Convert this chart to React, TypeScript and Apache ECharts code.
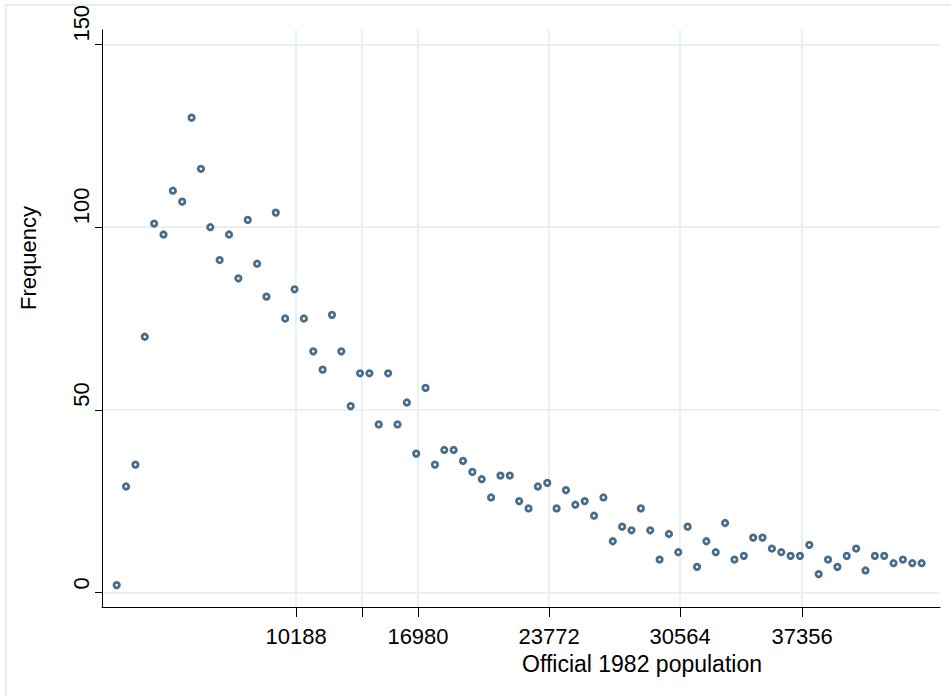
import React, { useEffect, useRef } from "react";
import * as echarts from "echarts";

// Histogram bins (bin number along the axis) and their frequencies
const frequencies: number[] = [
  2, 29, 35, 70, 101, 98, 110, 107, 130, 116, 100, 91, 98, 86, 102, 90, 81, 104, 75, 83,
  75, 66, 61, 76, 66, 51, 60, 60, 46, 60, 46, 52, 38, 56, 35, 39, 39, 36, 33, 31,
  26, 32, 32, 25, 23, 29, 30, 23, 28, 24, 25, 21, 26, 14, 18, 17, 23, 17, 9, 16,
  11, 18, 7, 14, 11, 19, 9, 10, 15, 15, 12, 11, 10, 10, 13, 5, 9, 7, 10, 12,
  6, 10, 10, 8, 9, 8, 8,
];
const binIndex: number[] = frequencies.map((_, i) => i);

// x-axis ticks (positions in bin units) and their labels
const xTickPositions: number[] = [19.16, 26.21, 32.19, 46.19, 60.19, 73.22];
const xTickLabels: string[] = ["10188", "", "16980", "23772", "30564", "37356"];

// y-axis ticks
const yTicks: number[] = [0, 50, 100, 150];

const xTitle = "Official 1982 population";
const yTitle = "Frequency";

const FONT = "'Liberation Sans', Arial, Helvetica, sans-serif";
const GRID_COLOR = "#e9f0f3";
const MARKER = "#1a476f";

export default function App() {
  const ref = useRef<HTMLDivElement>(null);

  useEffect(() => {
    if (!ref.current) return;
    const chart = echarts.init(ref.current, undefined, { renderer: "svg" });
    const points = binIndex.map((b, i) => [b, frequencies[i]]);

    chart.setOption({
      animation: false,
      backgroundColor: "#ffffff",
      grid: { left: 102, right: 11, top: 30, bottom: 89, containLabel: false },
      xAxis: {
        type: "value",
        min: -1.57,
        max: 87.96,
        axisLine: { show: true, onZero: false, lineStyle: { color: "#000", width: 1 } },
        axisTick: {
          show: true,
          length: 10,
          customValues: xTickPositions,
          lineStyle: { color: "#000", width: 1 },
        },
        axisLabel: {
          customValues: xTickPositions,
          fontSize: 22,
          fontFamily: FONT,
          color: "#000",
          margin: 18,
          formatter: (v: number) => {
            let best = 0;
            for (let i = 1; i < xTickPositions.length; i++) {
              if (Math.abs(xTickPositions[i] - v) < Math.abs(xTickPositions[best] - v)) best = i;
            }
            return xTickLabels[best];
          },
        },
        splitLine: { show: true, lineStyle: { color: GRID_COLOR, width: 2 } },
      },
      yAxis: {
        type: "value",
        min: -4,
        max: 154,
        axisLine: { show: true, onZero: false, lineStyle: { color: "#000", width: 1 } },
        axisTick: {
          show: true,
          length: 7,
          customValues: yTicks,
          lineStyle: { color: "#000", width: 1 },
        },
        axisLabel: {
          customValues: yTicks,
          fontSize: 22,
          fontFamily: FONT,
          color: "#000",
          rotate: 90,
          align: "left",
          margin: 10,
          padding: [0, 0, 0, 3],
        },
        splitLine: { show: true, lineStyle: { color: GRID_COLOR, width: 2 } },
      },
      graphic: [
        {
          type: "rect",
          shape: { x: 6, y: 5, width: 1000, height: 1000 },
          style: { fill: "none", stroke: "#e6edf1", lineWidth: 2 },
          silent: true,
          z: -1,
        },
        {
          type: "text",
          x: 642,
          y: 664,
          style: {
            text: xTitle,
            fontSize: 23,
            fontFamily: FONT,
            fill: "#000",
            textAlign: "center",
            textVerticalAlign: "middle",
          },
        },
        {
          type: "text",
          x: 28,
          y: 258,
          rotation: Math.PI / 2,
          style: {
            text: yTitle,
            fontSize: 22,
            fontFamily: FONT,
            fill: "#000",
            textAlign: "center",
            textVerticalAlign: "middle",
          },
        },
      ],
      series: [
        {
          type: "scatter",
          data: points,
          symbol: "circle",
          symbolSize: 5.4,
          itemStyle: { color: "#ffffff", borderColor: MARKER, borderWidth: 2.8 },
          z: 3,
        },
      ],
    });

    return () => chart.dispose();
  }, []);

  return (
    <div
      ref={ref}
      style={{ position: "fixed", left: 0, top: 0, width: 951, height: 696 }}
    />
  );
}
